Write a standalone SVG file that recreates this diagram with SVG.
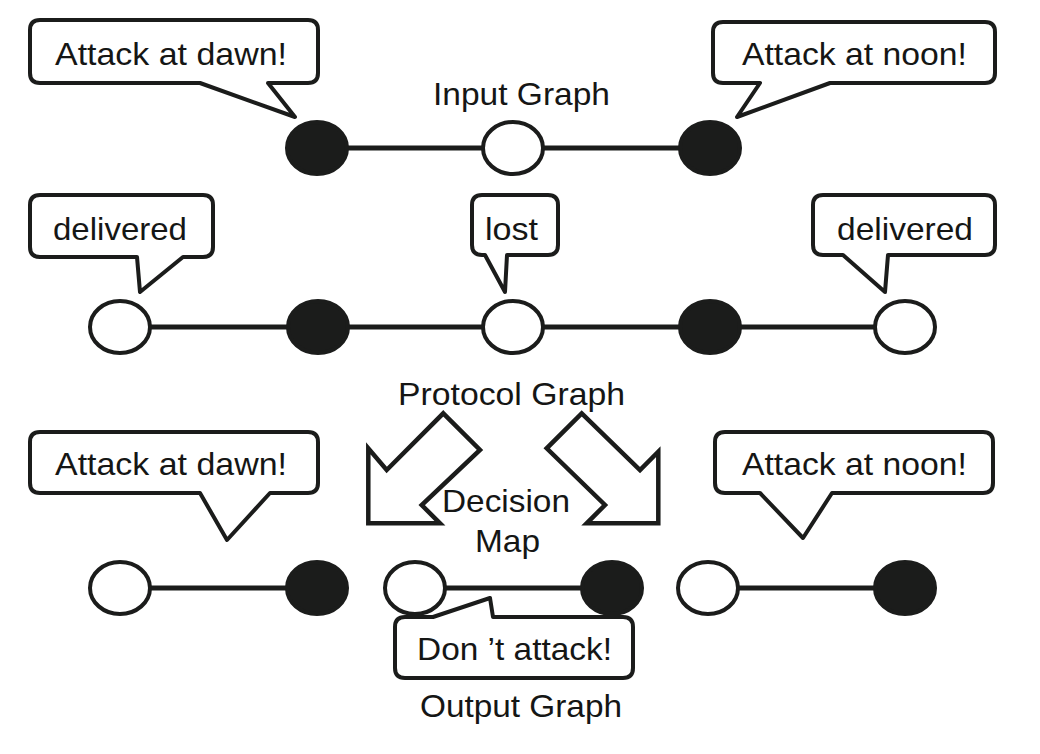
<svg xmlns="http://www.w3.org/2000/svg" width="1040" height="754" viewBox="0 0 1040 754">
<style>
.bg{fill:#ffffff}
.edge{stroke:#1b1c1b;stroke-width:5;fill:none}
.wn{fill:#ffffff;stroke:#1b1c1b;stroke-width:4}
.bn{fill:#1b1c1b;stroke:#1b1c1b;stroke-width:4}
.call{fill:#ffffff;stroke:#1b1c1b;stroke-width:4;stroke-linejoin:round}
.arr{fill:#ffffff;stroke:#1b1c1b;stroke-width:4.5;stroke-linejoin:miter}
.t{font-family:"Liberation Sans",Arial,sans-serif;font-size:31.5px;fill:#151615}
</style>
<rect class="bg" x="0" y="0" width="1040" height="754"/>

<g id="connectors">
  <line class="edge" x1="317" y1="148" x2="710" y2="148"/>
  <line class="edge" x1="120" y1="327" x2="905" y2="327"/>
  <line class="edge" x1="120" y1="588" x2="317" y2="588"/>
  <line class="edge" x1="415" y1="588" x2="612" y2="588"/>
  <line class="edge" x1="708" y1="588" x2="905" y2="588"/>
</g>

<g id="input-graph">
  <ellipse id="in1" class="bn" cx="317" cy="148" rx="30" ry="26"/>
  <ellipse id="in2" class="wn" cx="513" cy="148" rx="30" ry="26"/>
  <ellipse id="in3" class="bn" cx="710" cy="148" rx="30" ry="26"/>
  <text class="t" x="433" y="105" textLength="177" lengthAdjust="spacingAndGlyphs">Input Graph</text>
</g>

<g id="callout-dawn-top">
  <path class="call" d="M40,20 H308 Q318,20 318,30 V73 Q318,83 308,83 H268 L295,117 L200,83 H40 Q30,83 30,73 V30 Q30,20 40,20 Z"/>
  <text class="t" x="55" y="65" textLength="232" lengthAdjust="spacingAndGlyphs">Attack at dawn!</text>
</g>
<g id="callout-noon-top">
  <path class="call" d="M723,22 H985 Q995,22 995,32 V73 Q995,83 985,83 H830 L737,117 L760,83 H723 Q713,83 713,73 V32 Q713,22 723,22 Z"/>
  <text class="t" x="742" y="65" textLength="225" lengthAdjust="spacingAndGlyphs">Attack at noon!</text>
</g>

<g id="protocol-graph">
  <ellipse id="p1" class="wn" cx="120" cy="327" rx="30" ry="26"/>
  <ellipse id="p2" class="bn" cx="318" cy="327" rx="30" ry="26"/>
  <ellipse id="p3" class="wn" cx="513" cy="327" rx="30" ry="26"/>
  <ellipse id="p4" class="bn" cx="710" cy="327" rx="30" ry="26"/>
  <ellipse id="p5" class="wn" cx="905" cy="327" rx="30" ry="26"/>
  <text class="t" x="398" y="405" textLength="227" lengthAdjust="spacingAndGlyphs">Protocol Graph</text>
</g>

<g id="callout-delivered-left">
  <path class="call" d="M40,195 H203 Q213,195 213,205 V247 Q213,257 203,257 H183 L140,292 L137,257 H40 Q30,257 30,247 V205 Q30,195 40,195 Z"/>
  <text class="t" x="53" y="240" textLength="134" lengthAdjust="spacingAndGlyphs">delivered</text>
</g>
<g id="callout-lost">
  <path class="call" d="M482,195 H548 Q558,195 558,205 V245 Q558,255 548,255 H507 L505,292 L485,255 H482 Q472,255 472,245 V205 Q472,195 482,195 Z"/>
  <text class="t" x="485" y="240" textLength="53" lengthAdjust="spacingAndGlyphs">lost</text>
</g>
<g id="callout-delivered-right">
  <path class="call" d="M823,195 H985 Q995,195 995,205 V245 Q995,255 985,255 H888 L885,292 L843,255 H823 Q813,255 813,245 V205 Q813,195 823,195 Z"/>
  <text class="t" x="837" y="240" textLength="136" lengthAdjust="spacingAndGlyphs">delivered</text>
</g>

<g id="decision-map">
  <polygon class="arr" points="443.3,413.3 480,450 421.7,505 440,523.3 368.3,523.3 368.3,448.3 386.7,470"/>
  <polygon class="arr" points="581.7,413.3 640,470 658.3,451.7 658.3,523.3 586.7,523.3 605,505 546.7,448.3"/>
  <text class="t" x="442" y="512" textLength="128" lengthAdjust="spacingAndGlyphs">Decision</text>
  <text class="t" x="475" y="552" textLength="65" lengthAdjust="spacingAndGlyphs">Map</text>
</g>

<g id="output-graph">
  <ellipse id="o1" class="wn" cx="120" cy="588" rx="30" ry="26"/>
  <ellipse id="o2" class="bn" cx="317" cy="588" rx="30" ry="26"/>
  <ellipse id="o3" class="wn" cx="415" cy="588" rx="30" ry="26"/>
  <ellipse id="o4" class="bn" cx="612" cy="588" rx="30" ry="26"/>
  <ellipse id="o5" class="wn" cx="708" cy="588" rx="30" ry="26"/>
  <ellipse id="o6" class="bn" cx="905" cy="588" rx="30" ry="26"/>
  <text class="t" x="420" y="717" textLength="202" lengthAdjust="spacingAndGlyphs">Output Graph</text>
</g>

<g id="callout-dawn-bottom">
  <path class="call" d="M40,432 H308 Q318,432 318,442 V483 Q318,493 308,493 H270 L227,540 L200,493 H40 Q30,493 30,483 V442 Q30,432 40,432 Z"/>
  <text class="t" x="55" y="475" textLength="232" lengthAdjust="spacingAndGlyphs">Attack at dawn!</text>
</g>
<g id="callout-noon-bottom">
  <path class="call" d="M725,432 H983 Q993,432 993,442 V483 Q993,493 983,493 H832 L803,538 L760,493 H725 Q715,493 715,483 V442 Q715,432 725,432 Z"/>
  <text class="t" x="742" y="475" textLength="225" lengthAdjust="spacingAndGlyphs">Attack at noon!</text>
</g>
<g id="callout-dont-attack">
  <path class="call" d="M405,617 H433 L490,598 L493,617 H623 Q633,617 633,627 V668 Q633,678 623,678 H405 Q395,678 395,668 V627 Q395,617 405,617 Z"/>
  <text class="t" x="417" y="660" textLength="195" lengthAdjust="spacingAndGlyphs">Don ’t attack!</text>
</g>
</svg>
